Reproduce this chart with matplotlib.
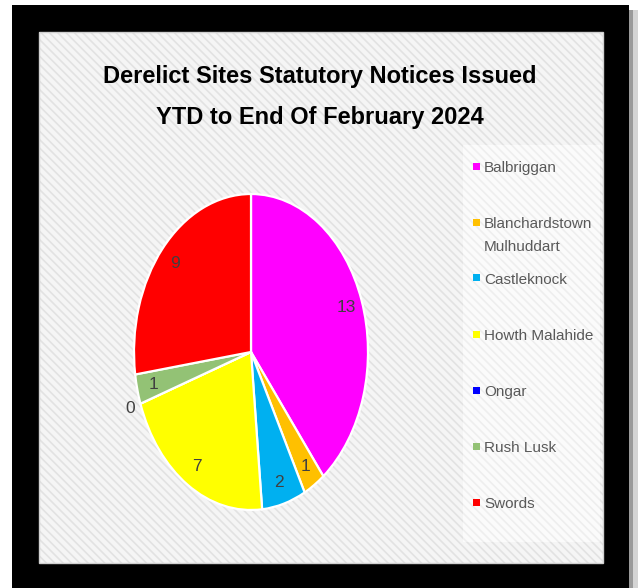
import matplotlib
matplotlib.use("Agg")
import matplotlib.pyplot as plt
from matplotlib.patches import Rectangle
import numpy as np

# ---- data ----
categories = ["Balbriggan", "Blanchardstown\nMulhuddart", "Castleknock",
              "Howth Malahide", "Ongar", "Rush Lusk", "Swords"]
values = [13, 1, 2, 7, 0, 1, 9]
colors = ["#ff00ff", "#ffc000", "#00b0f0", "#ffff00", "#0000ff", "#93c275", "#ff0000"]
title_lines = ["Derelict Sites Statutory Notices Issued", "YTD to End Of February 2024"]

W, H = 638, 588
FONT = ["Liberation Sans", "DejaVu Sans"]
plt.rcParams['font.family'] = FONT
plt.rcParams['hatch.linewidth'] = 1.2

fig = plt.figure(figsize=(W / 100, H / 100), dpi=100)
fig.patch.set_facecolor("white")


def rect_px(x0, y0, x1, y1, z=-10, **kw):
    """rectangle in pixel coords (top-left origin)"""
    r = Rectangle((x0 / W, 1 - y1 / H), (x1 - x0) / W, (y1 - y0) / H,
                  transform=fig.transFigure, figure=fig, zorder=z, **kw)
    fig.patches.append(r)
    return r


# shadow at right
rect_px(629, 10, 633, 588, facecolor="#9a9a9a", linewidth=0)
rect_px(633, 10, 638, 588, facecolor="#d4d4d4", linewidth=0)
# black frame
rect_px(12, 5, 629, 588, facecolor="black", linewidth=0)
# inner panel with diagonal stripes
rect_px(39, 32, 603, 563, facecolor="#f5f5f5", edgecolor="#e2e2e2",
        hatch="\\\\\\\\", linewidth=0)
rect_px(39, 32, 603, 563, facecolor="none", edgecolor="#d0d0d0", linewidth=1.0)
# legend panel (lighter)
rect_px(463, 145, 600, 542, facecolor="#fbfbfb", edgecolor="#eeeeee",
        hatch="\\\\\\\\", linewidth=0)

# title
fig.text(320 / W, 1 - 76 / H, title_lines[0], ha="center", va="center",
         fontsize=17, fontweight="bold", color="black")
fig.text(320 / W, 1 - 117 / H, title_lines[1], ha="center", va="center",
         fontsize=17, fontweight="bold", color="black")

# pie (elliptical)
cx, cy, rx, ry = 251, 352, 117, 158
ax = fig.add_axes([(cx - rx) / W, 1 - (cy + ry) / H, 2 * rx / W, 2 * ry / H])
wedges, texts = ax.pie(values, colors=colors, startangle=90, counterclock=False,
                       wedgeprops=dict(edgecolor="white", linewidth=1.6))
ax.set_aspect("auto")
ax.set_xlim(-1, 1)
ax.set_ylim(-1, 1)
ax.axis("off")

for w, v in zip(wedges, values):
    mid = np.deg2rad((w.theta1 + w.theta2) / 2)
    r = 0.86 if v > 0 else 1.09
    ax.text(r * np.cos(mid), r * np.sin(mid), str(v), ha="center", va="center",
            fontsize=12.5, color="#404040")

# legend
for i, (lab, col) in enumerate(zip(categories, colors)):
    yc = 166 + 56 * i
    rect_px(473, yc - 3.5, 480, yc + 3.5, z=1, facecolor=col, linewidth=0)
    fig.text(484 / W, 1 - (yc - 5) / H, lab, ha="left", va="top",
             fontsize=11, color="#595959", linespacing=1.85)

fig.savefig("out.png", dpi=100)
